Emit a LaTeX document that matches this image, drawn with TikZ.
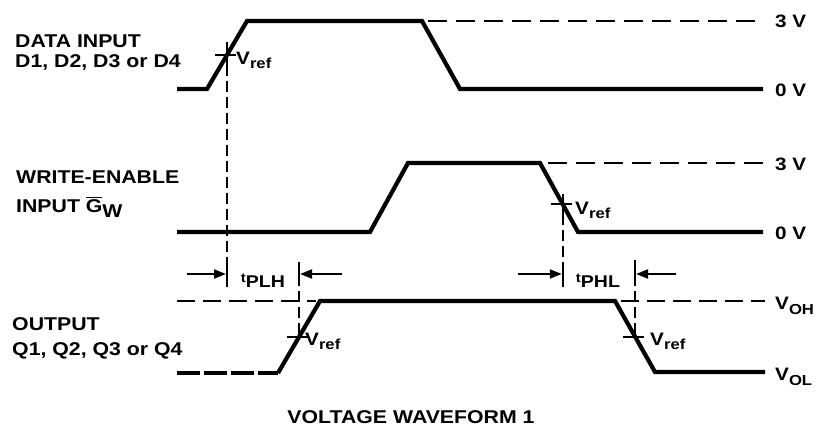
\documentclass[tikz,border=0pt]{standalone}
\usepackage{fontspec}
\setmainfont{Liberation Sans}[FakeStretch=1.15]
\usetikzlibrary{arrows.meta,calc}
\newcommand\myVsub[2]{V\raisebox{-#2}{\fontsize{14.5}{14.5}\selectfont #1}}
\newcommand\myTsub[1]{\raisebox{5pt}{\fontsize{13}{13}\selectfont t}#1}
\begin{document}
\begin{tikzpicture}[x=1pt,y=-1pt,
  wave/.style={line width=4.2pt},
  lvline/.style={line width=2pt, dash pattern=on 19pt off 9pt},
  vguide/.style={line width=2pt, dash pattern=on 11pt off 5pt},
  tickline/.style={line width=2pt},
  dim/.style={line width=2pt, -{Triangle[length=12pt,width=9pt]}},
  lbl/.style={font=\fontsize{18.5}{18.5}\selectfont\bfseries, anchor=base west, inner sep=0pt},
  lvl/.style={font=\fontsize{18}{18}\selectfont\bfseries, anchor=base west, inner sep=0pt},
  vref/.style={font=\fontsize{18}{18}\selectfont\bfseries, anchor=base west, inner sep=0pt},
  tlab/.style={font=\fontsize{17}{17}\selectfont\bfseries, anchor=base, inner sep=0pt},
]
\useasboundingbox (0,0) rectangle (824,436);

% ---------- left labels ----------
\node[lbl] (dA) at (15,48) {DATA INPUT};
\node[lbl] (dB) at (15,67) {D1, D2, D3 or D4};
\node[lbl] (wA) at (16,183) {WRITE-ENABLE};
\node[lbl] (wB) at (16,212) {INPUT $\overline{\mbox{G}}$\raisebox{-5pt}{W}};
\node[lbl] (oA) at (12,330) {OUTPUT};
\node[lbl] (oB) at (12,355) {Q1, Q2, Q3 or Q4};

% ---------- data input waveform ----------
\coordinate (d0) at (177,89);
\coordinate (d1) at (207,89);
\coordinate (d2) at (247,21);
\coordinate (d3) at (422,21);
\coordinate (d4) at (460,89);
\coordinate (d5) at (763,89);
\coordinate (d3r) at (428,21);
\coordinate (d5t) at (763,21);
\draw[wave] (d0) -- (d1) -- (d2) -- (d3) -- (d4) -- (d5);
\draw[lvline] (d3r) -- (d5t);
\node[lvl] (dv3) at (775,28) {3 V};
\node[lvl] (dv0) at (775,96) {0 V};
\coordinate (dx) at ($(d1)!0.5!(d2)$);
\draw[tickline] ($(dx)+(-12,0)$) -- ($(dx)+(9,0)$);
\draw[tickline] ($(dx)+(0,-13)$) -- ($(dx)+(0,10)$);
\node[vref] (dvr) at (236,65) {\myVsub{ref}{4pt}};

% ---------- write-enable waveform ----------
\coordinate (w0) at (177,232);
\coordinate (w1) at (370,232);
\coordinate (w2) at (408,163);
\coordinate (w3) at (540,163);
\coordinate (w4) at (578,232);
\coordinate (w5) at (763,232);
\coordinate (w3r) at (548,163);
\coordinate (w5t) at (763,163);
\draw[wave] (w0) -- (w1) -- (w2) -- (w3) -- (w4) -- (w5);
\draw[lvline] (w3r) -- (w5t);
\node[lvl] (wv3) at (775,170) {3 V};
\node[lvl] (wv0) at (775,239) {0 V};
\coordinate (wx) at ($(w3)!0.6!(w4)$);
\draw[tickline] ($(wx)+(-12,0)$) -- ($(wx)+(9,0)$);
\draw[tickline] ($(wx)+(0,-10)$) -- ($(wx)+(0,10)$);
\node[vref] (wvr) at (575,214) {\myVsub{ref}{4pt}};

% ---------- output waveform ----------
\coordinate (o0) at (177,373);
\coordinate (o1) at (278,373);
\coordinate (o2) at (320,301);
\coordinate (o3) at (615,301);
\coordinate (o4) at (655,372);
\coordinate (o5) at (765,372);
\draw[wave, dash pattern=on 23pt off 4pt] (o0) -- (o1);
\draw[wave] (o1) -- (o2) -- (o3) -- (o4) -- (o5);
\coordinate (ohl0) at (177,301);
\coordinate (ohl1) at (316,301);
\coordinate (ohr0) at (621,301);
\coordinate (ohr1) at (765,301);
\draw[lvline, dash pattern=on 18pt off 8pt] (ohl0) -- (ohl1);
\draw[lvline, dash pattern=on 18pt off 8pt] (ohr0) -- (ohr1);
\node[lvl] (voh) at (775,309) {\myVsub{OH}{5pt}};
\node[lvl] (vol) at (775,380) {\myVsub{OL}{5pt}};
\coordinate (ox1) at ($(o1)!0.5!(o2)$);
\coordinate (ox2) at ($(o3)!0.5!(o4)$);
\draw[tickline] ($(ox1)+(-12,0)$) -- ($(ox1)+(9,0)$);
\draw[tickline] ($(ox2)+(-12,0)$) -- ($(ox2)+(9,0)$);
\node[vref] (o1vr) at (305,345) {\myVsub{ref}{4pt}};
\node[vref] (o2vr) at (650,345) {\myVsub{ref}{4pt}};

% ---------- vertical guides ----------
\coordinate (dxb) at ($(dx)+(0,10)$);
\coordinate (plA) at (dx |- 0,262);
\coordinate (plB) at (dx |- 0,287);
\draw[vguide] (dxb) -- (plA);
\draw[tickline] (plA) -- (plB);

\coordinate (plC) at (ox1 |- 0,262);
\coordinate (plD) at (ox1 |- 0,286);
\draw[tickline] (plC) -- (plD);
\draw[vguide] ($(plD)+(0,5)$) -- (ox1);

\coordinate (wxb) at ($(wx)+(0,10)$);
\coordinate (phA) at (wx |- 0,262);
\coordinate (phB) at (wx |- 0,287);
\draw[vguide] (wxb) -- (phA);
\draw[tickline] (phA) -- (phB);

\coordinate (phC) at (ox2 |- 0,260);
\coordinate (phD) at (ox2 |- 0,286);
\draw[tickline] (phC) -- (phD);
\draw[vguide] ($(phD)+(0,5)$) -- (ox2);

% ---------- timing arrows ----------
\coordinate (pla0) at (187,274);
\coordinate (pla1) at ($(dx |- 0,274)+(-1,0)$);
\coordinate (plb0) at (342,274);
\coordinate (plb1) at ($(ox1 |- 0,274)+(1,0)$);
\draw[dim] (pla0) -- (pla1);
\draw[dim] (plb0) -- (plb1);
\node[tlab] (tplh) at (263,287) {\myTsub{PLH}};

\coordinate (pha0) at (518,274);
\coordinate (pha1) at ($(wx |- 0,274)+(-1,0)$);
\coordinate (phb0) at (676,274);
\coordinate (phb1) at ($(ox2 |- 0,274)+(1,0)$);
\draw[dim] (pha0) -- (pha1);
\draw[dim] (phb0) -- (phb1);
\node[tlab] (tphl) at (598,287) {\myTsub{PHL}};

% ---------- caption ----------
\node[font=\fontsize{18.5}{18.5}\selectfont\bfseries, inner sep=0pt] (cap) at (411,417) {VOLTAGE WAVEFORM 1};
\end{tikzpicture}
\end{document}
